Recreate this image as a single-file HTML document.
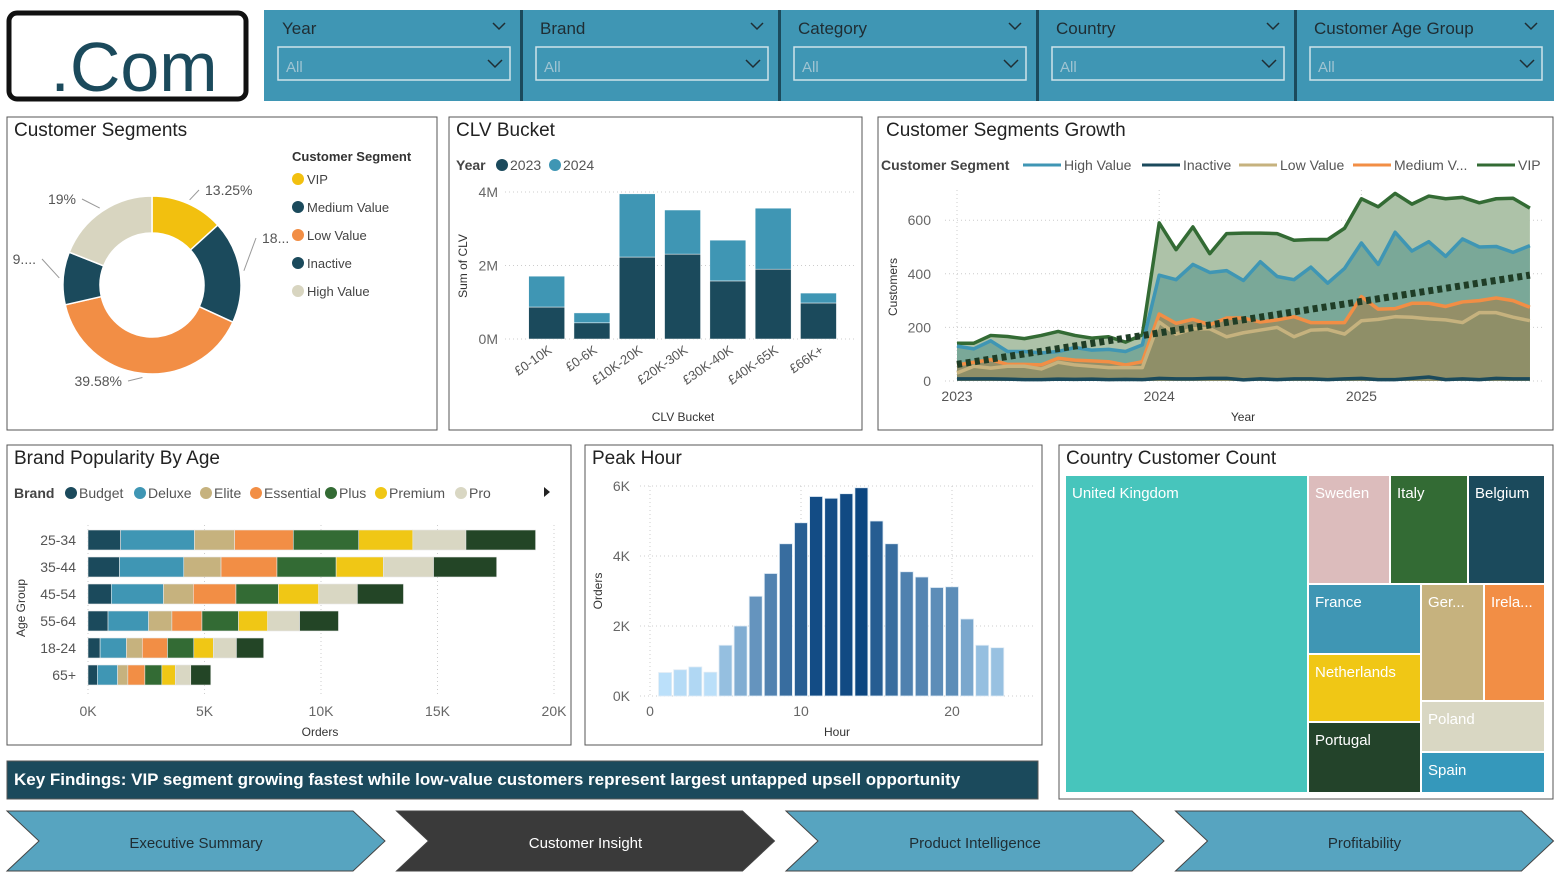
<!DOCTYPE html>
<html><head><meta charset="utf-8">
<style>
html,body{margin:0;padding:0;background:#fff;}
svg{display:block;font-family:"Liberation Sans","DejaVu Sans",sans-serif;}
</style></head>
<body>
<svg id="s" width="1558" height="880" viewBox="0 0 1558 880" xmlns="http://www.w3.org/2000/svg">
<rect x="0" y="0" width="1558" height="880" fill="#fff"/>
<g>
<rect x="9" y="13" width="237" height="86" rx="8" fill="#fff" stroke="#111" stroke-width="5"/>
<text x="134" y="91" text-anchor="middle" font-size="70" fill="#1b4a5c">.Com</text>
</g>
<g>
<rect x="264" y="10" width="1290" height="91" fill="#3f96b4"/>
</g>
<g id="filters"></g>
<rect x="7" y="117" width="430" height="313" fill="none" stroke="#555" stroke-width="1"/>
<text x="14" y="136" font-size="19" fill="#222">Customer Segments</text>
<rect x="449" y="117" width="413" height="313" fill="none" stroke="#555"/>
<text x="456" y="136" font-size="19" fill="#222">CLV Bucket</text>
<rect x="878" y="117" width="675" height="313" fill="none" stroke="#555"/>
<text x="886" y="136" font-size="19" fill="#222">Customer Segments Growth</text>
<rect x="7" y="445" width="564" height="300" fill="none" stroke="#555"/>
<text x="14" y="464" font-size="19" fill="#222">Brand Popularity By Age</text>
<rect x="585" y="445" width="457" height="300" fill="none" stroke="#555"/>
<text x="592" y="464" font-size="19" fill="#222">Peak Hour</text>
<rect x="1059" y="445" width="494" height="354" fill="none" stroke="#555"/>
<text x="1066" y="464" font-size="19" fill="#222">Country Customer Count</text>
<g>
<rect x="7" y="761" width="1031" height="38" fill="#1b4a5c" stroke="#555"/>
<text x="14" y="785" font-size="17" font-weight="bold" fill="#fff">Key Findings: VIP segment growing fastest while low-value customers represent largest untapped upsell opportunity</text>
</g>
<g id="nav"></g>
<g id="donut"></g>
<g id="clv"></g>
<g id="growth"></g>
<g id="brand"></g>
<g id="peak"></g>
<g id="tree"></g>
</svg>
<script>
const NS="http://www.w3.org/2000/svg";
function mk(parent,tag,attrs,text){const e=document.createElementNS(NS,tag);for(const k in attrs)e.setAttribute(k,attrs[k]);if(text!==undefined)e.textContent=text;parent.appendChild(e);return e;}
const $=id=>document.getElementById(id);

const filterNames=["Year","Brand","Category","Country","Customer Age Group"];
(function(){const g=$("filters");filterNames.forEach((n,i)=>{const x=264+i*258;
 const sg=mk(g,"g",{});
 
 
 if(i>0)mk(sg,"rect",{x:x-2,y:10,width:3,height:91,fill:"#1b4a5c"});
 mk(sg,"text",{x:x+18,y:34,"font-size":17,fill:"#1f2d33"},n);
 mk(sg,"path",{d:`M${x+229} ${23}l6 6l6 -6`,fill:"none",stroke:"#1f2d33","stroke-width":1.5});
 mk(sg,"rect",{x:x+14,y:47,width:232,height:33,fill:"none",stroke:"#cfe3ea","stroke-width":1.5});
 mk(sg,"text",{x:x+22,y:72,"font-size":15,fill:"#9fc4d2"},"All");
 mk(sg,"path",{d:`M${x+224} ${60}l7 7l7 -7`,fill:"none",stroke:"#1f2d33","stroke-width":1.5});
});})();

const navLabels=["Executive Summary","Customer Insight","Product Intelligence","Profitability"];
(function(){const g=$("nav");navLabels.forEach((n,i)=>{const x=7+i*389.5;const w=378;
 const a=mk(g,"g",{});
 
 
 const c=i==1?"#3a3a3a":"#57a4c0";
 mk(a,"path",{d:`M${x} 811 L${x+w-32} 811 L${x+w} 841 L${x+w-32} 871 L${x} 871 L${x+32} 841 Z`,fill:c,stroke:"#444","stroke-width":1});
 mk(a,"text",{x:x+w/2,y:848,"text-anchor":"middle","font-size":15,fill:i==1?"#fff":"#1f2d33"},n);
});})();

const segNames=["VIP","Medium Value","Low Value","Inactive","High Value"];
const segShares=[13.25,18.6,39.58,9.57,19.0];
const segLabels=["13.25%","18...","39.58%","9....","19%"];
const segColors=["#f2c00f","#1b4a5c","#f28e45","#1b4a5c","#d8d5c0"];
(function(){const g=$("donut");const cx=152,cy=285,R=89,r=52;const tot=segShares.reduce((a,b)=>a+b,0);let a0=0;
 const lp=[[205,195,"start"],[262,243,"start"],[122,386,"end"],[36,264,"end"],[76,204,"end"]];
 segShares.forEach((v,i)=>{const a1=a0+v/tot*2*Math.PI;
  const p=(a,rr)=>[cx+rr*Math.sin(a),cy-rr*Math.cos(a)];
  const [x0,y0]=p(a0,R),[x1,y1]=p(a1,R),[x2,y2]=p(a1,r),[x3,y3]=p(a0,r);const lg=a1-a0>Math.PI?1:0;
  const s=mk(g,"path",{d:`M${x0} ${y0}A${R} ${R} 0 ${lg} 1 ${x1} ${y1}L${x2} ${y2}A${r} ${r} 0 ${lg} 0 ${x3} ${y3}Z`,fill:segColors[i],stroke:"#fff","stroke-width":1.5});
  
  
  const am=(a0+a1)/2;const [ex,ey]=p(am,R+4);const L=lp[i];
  mk(g,"path",{d:`M${ex} ${ey}L${L[0]+(L[2]=="start"?-6:6)} ${L[1]-5}`,fill:"none",stroke:"#999"});
  const t=mk(g,"text",{x:L[0],y:L[1],"text-anchor":L[2],"font-size":14,fill:"#555"},segLabels[i]);
  
  
  a0=a1;});
 const lg=mk(g,"g",{});
 
 
 mk(lg,"text",{x:292,y:161,"font-size":13,"font-weight":"bold",fill:"#333"},"Customer Segment");
 segNames.forEach((n,i)=>{mk(lg,"circle",{cx:298,cy:179+i*28,r:6,fill:segColors[i]});mk(lg,"text",{x:307,y:184+i*28,"font-size":13,fill:"#444"},n);});
})();

const clvCats=["£0-10K","£0-6K","£10K-20K","£20K-30K","£30K-40K","£40K-65K","£66K+"];
const clv2023=[0.87,0.44,2.23,2.31,1.58,1.90,0.98];
const clv2024=[0.84,0.27,1.72,1.20,1.11,1.66,0.27];
const clvTicks=[0,2,4];
(function(){const g=$("clv");const y=v=>339-v*36.75;const x0=524,bw=45.3;
 clvTicks.forEach(t=>{mk(g,"line",{x1:505,x2:855,y1:y(t),y2:y(t),stroke:"#ccc","stroke-dasharray":"1 3"});mk(g,"text",{x:498,y:y(t)+5,"text-anchor":"end","font-size":14,fill:"#666"},t+"M");});
 mk(g,"text",{x:456,y:170,"font-size":14,"font-weight":"bold",fill:"#444"},"Year");
 mk(g,"circle",{cx:502,cy:165,r:6,fill:"#1b4a5c"});mk(g,"text",{x:510,y:170,"font-size":14,fill:"#555"},"2023");
 mk(g,"circle",{cx:555,cy:165,r:6,fill:"#3f96b4"});mk(g,"text",{x:563,y:170,"font-size":14,fill:"#555"},"2024");
 clvCats.forEach((c,i)=>{const cx=x0+bw*i+bw/2;
  const b1=mk(g,"rect",{x:cx-18,y:y(clv2023[i]),width:36,height:clv2023[i]*36.75,fill:"#1b4a5c",stroke:"#fff","stroke-width":0.5});
  
  
  const b2=mk(g,"rect",{x:cx-18,y:y(clv2023[i]+clv2024[i]),width:36,height:clv2024[i]*36.75,fill:"#3f96b4",stroke:"#fff","stroke-width":0.5});
  
  
  mk(g,"text",{x:cx+6,y:352,"text-anchor":"end","font-size":13,fill:"#555",transform:`rotate(-35 ${cx+6} 352)`},c);});
 mk(g,"text",{x:683,y:421,"text-anchor":"middle","font-size":12,fill:"#333"},"CLV Bucket");
 mk(g,"text",{x:467,y:266,"text-anchor":"middle","font-size":12,fill:"#333",transform:"rotate(-90 467 266)"},"Sum of CLV");
})();

const growthVIP=[141,141,170,166,158,170,185,170,160,165,145,172,590,490,575,475,550,552,552,550,525,528,528,570,680,650,700,660,690,680,685,665,680,682,645];
const growthHigh=[130,120,150,110,110,105,110,125,115,118,110,135,395,378,435,405,412,375,445,390,378,425,365,420,515,435,555,485,520,465,530,500,502,480,505];
const growthMedium=[60,70,80,62,62,60,85,78,75,72,60,72,250,215,230,210,235,235,220,228,240,218,218,218,315,268,270,290,290,278,295,300,310,300,275];
const growthLow=[30,55,48,55,55,45,70,60,55,50,50,50,220,175,195,195,165,180,190,200,165,190,192,175,225,230,240,238,232,228,218,255,255,238,225];
const growthInactive=[8,8,8,7,5,5,7,6,7,5,6,5,10,8,8,10,10,4,8,5,8,8,5,8,10,5,5,10,15,5,8,5,10,8,8];
const growthTicks=[0,200,400,600];
const growthYears=["2023","2024","2025"];
const trendStart=62, trendEnd=395;
(function(){const g=$("growth");const y=v=>381-v*0.268;const x=i=>957+i*16.85;
 growthTicks.forEach(t=>{mk(g,"line",{x1:945,x2:1545,y1:y(t),y2:y(t),stroke:"#ccc","stroke-dasharray":"1 3"});mk(g,"text",{x:931,y:y(t)+5,"text-anchor":"end","font-size":14,fill:"#666"},t);});
 growthYears.forEach((t,i)=>{mk(g,"line",{x1:x(i*12),x2:x(i*12),y1:190,y2:381,stroke:"#ccc","stroke-dasharray":"1 3"});mk(g,"text",{x:x(i*12),y:401,"text-anchor":"middle","font-size":14,fill:"#555"},t);});
 const series=[["vip",growthVIP,"#adc2a8","#336b34"],["high-value",growthHigh,"#7aa898","#3f96b4"],["medium-value",growthMedium,"#948f68","#f28e45"],["low-value",growthLow,"#8f8f68","#c6b27e"],["inactive",growthInactive,"#8f8f68","#1b4a5c"]];
 series.forEach(s=>{const d=s[1];let p=`M${x(0)} ${y(0)}`;d.forEach((v,i)=>p+=`L${x(i)} ${y(v)}`);p+=`L${x(d.length-1)} ${y(0)}Z`;
  const a=mk(g,"path",{d:p,fill:s[2],opacity:1});
  
  });
 series.forEach(s=>{const d=s[1];const l=mk(g,"polyline",{points:d.map((v,i)=>x(i)+","+y(v)).join(" "),fill:"none",stroke:s[3],"stroke-width":3.5,"stroke-linejoin":"round"});
  
  });
 const tl=mk(g,"line",{x1:x(0),y1:y(trendStart),x2:x(growthVIP.length-1),y2:y(trendEnd),stroke:"#1f3d26","stroke-width":7,"stroke-dasharray":"5 4"});
 
 
 const lg=mk(g,"g",{});
 
 
 mk(lg,"text",{x:881,y:170,"font-size":14,"font-weight":"bold",fill:"#444"},"Customer Segment");
 const items=[["High Value","#3f96b4",1023],["Inactive","#1b4a5c",1142],["Low Value","#c6b27e",1239],["Medium V...","#f28e45",1353],["VIP","#336b34",1477]];
 items.forEach(it=>{mk(lg,"line",{x1:it[2],x2:it[2]+38,y1:165,y2:165,stroke:it[1],"stroke-width":3});mk(lg,"text",{x:it[2]+41,y:170,"font-size":14,fill:"#555"},it[0]);});
 mk(g,"text",{x:1243,y:421,"text-anchor":"middle","font-size":12,fill:"#333"},"Year");
 mk(g,"text",{x:897,y:287,"text-anchor":"middle","font-size":12,fill:"#333",transform:"rotate(-90 897 287)"},"Customers");
})();

const ageGroups=["25-34","35-44","45-54","55-64","18-24","65+"];
const brandNames=["Budget","Deluxe","Elite","Essential","Plus","Premium","Pro","Other"];
const brandColors=["#1b4a5c","#3f96b4","#c6b27e","#f28e45","#336b34","#f0c715","#d9d7c3","#234526"];
const brandBudget=[1.40,1.35,1.00,0.86,0.52,0.40];
const brandDeluxe=[3.17,2.76,2.24,1.74,1.13,0.87];
const brandElite=[1.72,1.60,1.28,1.00,0.68,0.44];
const brandEssential=[2.52,2.40,1.83,1.29,1.08,0.73];
const brandPlus=[2.81,2.54,1.82,1.57,1.13,0.73];
const brandPremium=[2.32,2.03,1.73,1.25,0.84,0.58];
const brandPro=[2.28,2.15,1.66,1.37,0.99,0.66];
const brandOther=[2.99,2.71,1.98,1.67,1.17,0.86];
const brandTicks=[0,5,10,15,20];
(function(){const g=$("brand");const x=v=>88+v*23.3;const series=[brandBudget,brandDeluxe,brandElite,brandEssential,brandPlus,brandPremium,brandPro,brandOther];
 brandTicks.forEach(t=>{mk(g,"line",{x1:x(t),x2:x(t),y1:525,y2:695,stroke:"#ccc","stroke-dasharray":"1 3"});mk(g,"text",{x:x(t),y:716,"text-anchor":"middle","font-size":14,fill:"#666"},t+"K");});
 ageGroups.forEach((a,j)=>{const cy=540+j*27;let acc=0;
  mk(g,"text",{x:76,y:cy+5,"text-anchor":"end","font-size":14,fill:"#555"},a);
  series.forEach((s,i)=>{const r=mk(g,"rect",{x:x(acc),y:cy-10,width:s[j]*23.3,height:20,fill:brandColors[i],stroke:"#e8e8e8","stroke-width":0.6});
   
   
   acc+=s[j];});});
 const lg=mk(g,"g",{});
 
 
 mk(lg,"text",{x:14,y:498,"font-size":14,"font-weight":"bold",fill:"#444"},"Brand");
 const lx=[71,140,206,256,331,381,461];
 brandNames.slice(0,7).forEach((n,i)=>{mk(lg,"circle",{cx:lx[i],cy:493,r:6,fill:brandColors[i]});mk(lg,"text",{x:lx[i]+8,y:498,"font-size":14,fill:"#555"},n);});
 const ar=mk(g,"path",{d:"M544 487l6 5l-6 5z",fill:"#222"});
 
 
 mk(g,"text",{x:320,y:736,"text-anchor":"middle","font-size":12,fill:"#333"},"Orders");
 mk(g,"text",{x:25,y:608,"text-anchor":"middle","font-size":12,fill:"#333",transform:"rotate(-90 25 608)"},"Age Group");
})();

const peakHours=[1,2,3,4,5,6,7,8,9,10,11,12,13,14,15,16,17,18,19,20,21,22,23];
const peakOrders=[0.67,0.75,0.83,0.68,1.45,2.0,2.85,3.5,4.35,4.95,5.7,5.65,5.78,5.95,5.0,4.35,3.55,3.4,3.1,3.12,2.2,1.45,1.38];
const peakTicks=[0,2,4,6];
const peakXTicks=[0,10,20];
(function(){const g=$("peak");const y=v=>696-v*35;const x=h=>650+h*15.1;
 peakTicks.forEach(t=>{mk(g,"line",{x1:640,x2:1035,y1:y(t),y2:y(t),stroke:"#ccc","stroke-dasharray":"1 3"});mk(g,"text",{x:630,y:y(t)+5,"text-anchor":"end","font-size":14,fill:"#666"},t+"K");});
 peakXTicks.forEach(t=>{mk(g,"line",{x1:x(t),x2:x(t),y1:486,y2:696,stroke:"#ccc","stroke-dasharray":"1 3"});mk(g,"text",{x:x(t),y:716,"text-anchor":"middle","font-size":14,fill:"#666"},t);});
 const mx=Math.max(...peakOrders),mn=Math.min(...peakOrders);
 const c0=[187,224,250],c1=[12,70,128];
 peakHours.forEach((h,i)=>{const f=(peakOrders[i]-mn)/(mx-mn);const c=c0.map((v,k)=>Math.round(v+(c1[k]-v)*Math.pow(f,0.8)));
  const b=mk(g,"rect",{x:x(h)-6.5,y:y(peakOrders[i]),width:13,height:peakOrders[i]*35,fill:`rgb(${c.join(",")})`,stroke:"#e0ecf5","stroke-width":0.8});
  
  });
 mk(g,"text",{x:837,y:736,"text-anchor":"middle","font-size":12,fill:"#333"},"Hour");
 mk(g,"text",{x:602,y:591,"text-anchor":"middle","font-size":12,fill:"#333",transform:"rotate(-90 602 591)"},"Orders");
})();

const countryNames=["United Kingdom","Sweden","Italy","Belgium","France","Netherlands","Portugal","Ger...","Irela...","Poland","Spain"];
const countryColors=["#47c5bc","#dcbcbc","#336b34","#1b4a5c","#3f96b4","#f0c715","#23432a","#c6b27e","#f28e45","#d9d7c3","#3598bb"];
const countryRects=[[1066,476,241,316],[1309,476,80,107],[1391,476,76,107],[1469,476,75,107],[1309,585,111,68],[1309,655,111,66],[1309,723,111,69],[1422,585,61,115],[1485,585,59,115],[1422,702,122,49],[1422,753,122,39]];
(function(){const g=$("tree");countryNames.forEach((n,i)=>{const r=countryRects[i];
 const e=mk(g,"rect",{x:r[0],y:r[1],width:r[2],height:r[3],fill:countryColors[i]});
 
 
 mk(g,"text",{x:r[0]+6,y:r[1]+22,"font-size":15,fill:"#fff"},n);});})();
</script>
</body></html>
